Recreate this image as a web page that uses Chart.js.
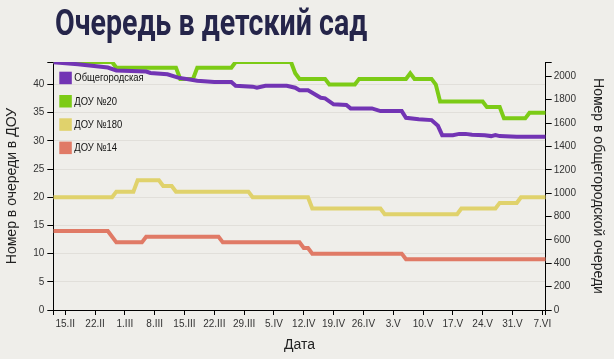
<!DOCTYPE html>
<html>
<head>
<meta charset="utf-8">
<script src="https://cdn.jsdelivr.net/npm/chart.js@4.4.1/dist/chart.umd.min.js"></script>
<style>
  html, body { margin: 0; padding: 0; background: #efeeea; }
  #wrap { position: relative; width: 614px; height: 359px; overflow: hidden; }
  #queueChart { position: absolute; left: 0; top: 0; }
  #title {
    position: absolute; left: 55px; top: 5px; margin: 0;
    font: bold 36px Roboto; line-height: 36px; color: #25254a;
    white-space: nowrap; transform-origin: 0 0;
  }
</style>
</head>
<body>
<div id="wrap">
  <canvas id="queueChart" width="614" height="359"></canvas>
  <h1 id="title">Очередь в детский сад</h1>
</div>
<script>
// дни считаем от 1 февраля (1.II = 0)
const xTickDays = [14, 21, 28, 35, 42, 49, 56, 63, 70, 77, 84, 91, 98, 105, 112, 119, 126];
const xTickLabels = ["15.II", "22.II", "1.III", "8.III", "15.III", "22.III", "29.III", "5.IV",
  "12.IV", "19.IV", "26.IV", "3.V", "10.V", "17.V", "24.V", "31.V", "7.VI"];

// Общегородская очередь (правая ось)
const cityDays = [11.2, 17, 24, 26, 33, 34, 38, 40.5, 45, 49, 53, 54, 58, 59, 61, 66, 68, 69, 71,
  74, 75, 77, 80, 81, 86, 88, 93, 94, 97, 100, 101.5, 102.5, 105, 106.5, 108, 109.5, 112.5,
  114, 115, 116, 120, 126.8];
const cityQueue = [2120, 2103, 2075, 2050, 2040, 2028, 2017, 1988, 1962, 1951, 1951, 1919, 1911,
  1902, 1919, 1919, 1902, 1880, 1880, 1816, 1811, 1760, 1754, 1725, 1725, 1702, 1702, 1645,
  1633, 1625, 1576, 1496, 1496, 1507, 1507, 1499, 1496, 1488, 1496, 1488, 1482, 1482];

// ДОУ №20
const dou20Days = [11.2, 25, 26, 40, 41, 44, 45, 53, 54, 67, 68, 69, 75, 76, 82, 83, 94, 95, 96,
  100, 101, 102, 112, 113, 116, 117, 122, 123, 126.8];
const dou20Queue = [44, 44, 43, 43, 41, 41, 43, 43, 44, 44, 42, 41, 41, 40, 40, 41, 41, 42, 41,
  41, 40, 37, 37, 36, 36, 34, 34, 35, 35];

// ДОУ №180
const dou180Days = [11.2, 25, 26, 30, 31, 36, 37, 39, 40, 57, 58, 71, 72, 88, 89, 106, 107, 115,
  116, 120, 121, 126.8];
const dou180Queue = [20, 20, 21, 21, 23, 23, 22, 22, 21, 21, 20, 20, 18, 18, 17, 17, 18, 18,
  19, 19, 20, 20];

// ДОУ №14
const dou14Days = [11.2, 24, 26, 32, 33, 50, 51, 69, 70, 71, 72, 93, 94, 126.8];
const dou14Queue = [14, 14, 12, 12, 13, 13, 12, 12, 11, 11, 10, 10, 9, 9];

function toPoints(days, values) {
  return days.map((d, i) => ({ x: d, y: values[i] }));
}

function dayLabel(value) {
  const idx = xTickDays.indexOf(value);
  return idx >= 0 ? xTickLabels[idx] : "";
}

const axisFont = { family: "Liberation Sans", size: 10 };
const titleFont = { family: "Liberation Sans", size: 14 };

// легенда внутри области графика, как в оригинале
const insideLegend = {
  id: "insideLegend",
  afterDatasetsDraw(chart) {
    const { ctx, chartArea } = chart;
    ctx.save();
    chart.data.datasets.forEach((ds, i) => {
      const top = chartArea.top + 9.7 + i * 23.3;
      ctx.fillStyle = ds.borderColor;
      ctx.fillRect(chartArea.left + 6, top, 12.5, 12.5);
      ctx.save();
      ctx.translate(chartArea.left + 21, top + 6.5);
      ctx.scale(0.82, 1);
      ctx.fillStyle = "#111";
      ctx.font = '11.5px "Liberation Sans"';
      ctx.textBaseline = "middle";
      ctx.fillText(ds.label, 0, 0);
      ctx.restore();
    });
    ctx.restore();
  },
};

new Chart(document.getElementById("queueChart"), {
  type: "line",
  data: {
    datasets: [
      {
        label: "Общегородская",
        data: toPoints(cityDays, cityQueue),
        borderColor: "#7234b4",
        yAxisID: "y1",
      },
      {
        label: "ДОУ №20",
        data: toPoints(dou20Days, dou20Queue),
        borderColor: "#7ccb16",
        yAxisID: "y",
      },
      {
        label: "ДОУ №180",
        data: toPoints(dou180Days, dou180Queue),
        borderColor: "#e0d26c",
        yAxisID: "y",
      },
      {
        label: "ДОУ №14",
        data: toPoints(dou14Days, dou14Queue),
        borderColor: "#e07a66",
        yAxisID: "y",
      },
    ],
  },
  plugins: [insideLegend],
  options: {
    responsive: false,
    animation: false,
    devicePixelRatio: 1,
    layout: { padding: { top: 62, left: 0, right: 0, bottom: 0 } },
    elements: {
      line: { borderWidth: 4, tension: 0, fill: false },
      point: { radius: 0, hoverRadius: 0 },
    },
    plugins: {
      legend: { display: false },
      tooltip: { enabled: false },
    },
    scales: {
      x: {
        type: "linear",
        min: 11.2,
        max: 126.8,
        afterBuildTicks: (axis) => {
          axis.ticks = [axis.min, ...xTickDays, axis.max].map((v) => ({ value: v }));
        },
        afterFit: (axis) => {
          axis.height = 49;
        },
        grid: { drawOnChartArea: false, tickLength: 5, color: "#000" },
        border: { color: "#000", width: 1 },
        ticks: {
          font: axisFont,
          color: "#333",
          padding: 3,
          maxRotation: 0,
          autoSkip: false,
          callback: (value) => dayLabel(value),
        },
        title: {
          display: true,
          text: "Дата",
          font: titleFont,
          color: "#222",
          padding: { top: 0, bottom: 5.6 },
        },
      },
      y: {
        type: "linear",
        position: "left",
        min: 0,
        max: 44,
        afterFit: (axis) => {
          axis.width = 53.3;
        },
        grid: {
          color: (ctx) =>
            ctx.tick && ctx.tick.value % 5 === 0 ? "#e1dfda" : "rgba(0,0,0,0)",
          tickColor: "#000",
          tickLength: 6,
        },
        border: { color: "#000", width: 1 },
        ticks: {
          stepSize: 5,
          font: axisFont,
          color: "#333",
          padding: 3,
          callback: (value) => (value % 5 === 0 ? value : ""),
        },
        title: {
          display: true,
          text: "Номер в очереди в ДОУ",
          font: titleFont,
          color: "#222",
          padding: { top: 4.1, bottom: 0 },
        },
      },
      y1: {
        type: "linear",
        position: "right",
        min: 0,
        max: 2122,
        afterFit: (axis) => {
          axis.width = 68.3;
        },
        grid: { drawOnChartArea: false, tickLength: 6, color: "#000" },
        border: { color: "#000", width: 1 },
        ticks: {
          stepSize: 200,
          font: axisFont,
          color: "#333",
          padding: 2,
          callback: (value) => (value % 200 === 0 ? value : ""),
        },
        title: {
          display: true,
          text: "Номер в общегородской очереди",
          font: titleFont,
          color: "#222",
          padding: { top: 8.1, bottom: 0 },
        },
      },
    },
  },
});

// заголовок шрифтом Roboto, сжатый по ширине как в оригинале
const title = document.getElementById("title");
title.style.transform = "scaleX(" + (312 / title.offsetWidth) + ")";
</script>
</body>
</html>
